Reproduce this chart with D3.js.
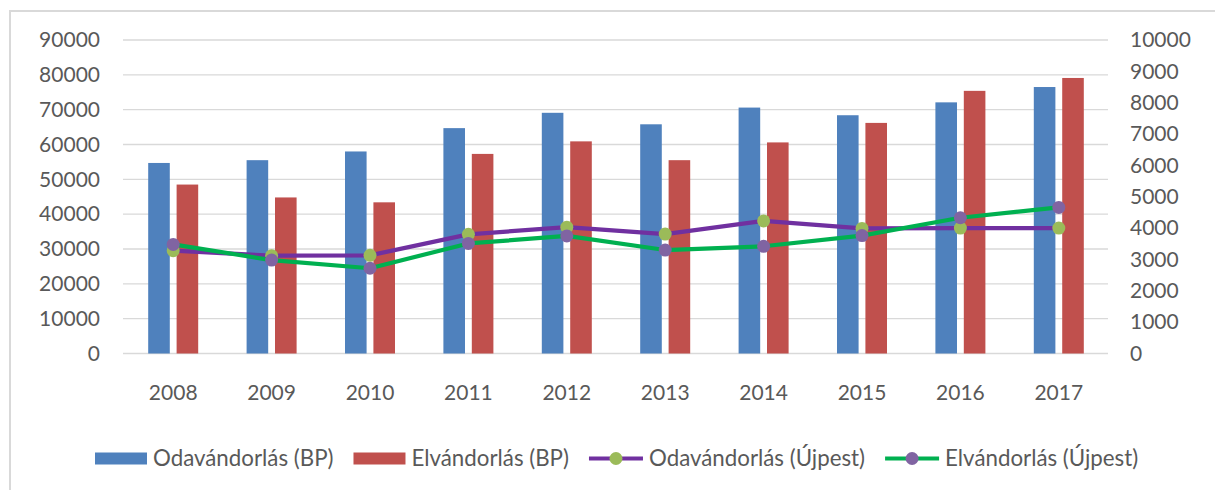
<!DOCTYPE html>
<html>
<head>
<meta charset="utf-8">
<script src="https://cdn.jsdelivr.net/npm/d3@7"></script>
<style>
  html, body { margin: 0; padding: 0; background: #fff; }
  svg { display: block; }
  text { font-family: Lato, "Open Sans", sans-serif; fill: #595959; }
</style>
</head>
<body>
<svg id="chart" width="1215" height="490"></svg>
<script>
// ---- data ----
const years = ["2008","2009","2010","2011","2012","2013","2014","2015","2016","2017"];
const odaBP = [54700, 55500, 58000, 64700, 69100, 65800, 70600, 68400, 72100, 76500];
const elBP  = [48500, 44800, 43400, 57300, 60900, 55500, 60600, 66200, 75400, 79100];
const odaUjpest = [3280, 3120, 3130, 3800, 4030, 3810, 4230, 3990, 4000, 4000];
const elUjpest  = [3480, 2980, 2720, 3510, 3750, 3300, 3420, 3760, 4330, 4660];
const leftTicks = [0,10000,20000,30000,40000,50000,60000,70000,80000,90000];
const rightTicks = [0,1000,2000,3000,4000,5000,6000,7000,8000,9000,10000];
const seriesNames = ["Odavándorlás (BP)", "Elvándorlás (BP)", "Odavándorlás (Újpest)", "Elvándorlás (Újpest)"];

// ---- styles ----
const C = {
  blue: "#4F81BD", red: "#C0504D",
  odaLine: "#7030A0", odaMarker: "#9BBB59",
  elLine: "#00B050", elMarker: "#8064A2",
  grid: "#D9D9D9", text: "#595959"
};

const svg = d3.select("#chart");

// outer border
svg.append("rect")
  .attr("x", 10).attr("y", 11).attr("width", 1230).attr("height", 500)
  .attr("fill", "none").attr("stroke", "#D9D9D9").attr("stroke-width", 2);

const plot = { left: 124, right: 1108, top: 40, bottom: 353.5 };

const x = d3.scaleBand().domain(years).range([plot.left, plot.right]).padding(0);
const xInner = d3.scaleBand().domain(["oda","el"]).range([-25, 25]).paddingInner(0.24).paddingOuter(0);
const yL = d3.scaleLinear().domain([0, 90000]).range([plot.bottom, plot.top]);
const yR = d3.scaleLinear().domain([0, 10000]).range([plot.bottom, plot.top]);

// gridlines
svg.append("g").attr("class","grid")
  .selectAll("line").data(leftTicks).join("line")
  .attr("x1", plot.left - 1).attr("x2", plot.right)
  .attr("y1", d => yL(d)).attr("y2", d => yL(d))
  .attr("stroke", C.grid).attr("stroke-width", 1.4);

// left axis
const axL = svg.append("g").attr("transform", `translate(100,0)`)
  .call(d3.axisLeft(yL).tickValues(leftTicks).tickSize(0).tickPadding(0).tickFormat(d3.format("d")));
axL.select(".domain").remove();
axL.selectAll("text").attr("font-size", 21).attr("fill", C.text).style("font-family", "Lato, sans-serif");

// right axis
const axR = svg.append("g").attr("transform", `translate(1130,0)`)
  .call(d3.axisRight(yR).tickValues(rightTicks).tickSize(0).tickPadding(0).tickFormat(d3.format("d")));
axR.select(".domain").remove();
axR.selectAll("text").attr("font-size", 21).attr("fill", C.text).style("font-family", "Lato, sans-serif");

// x axis labels
const axX = svg.append("g").attr("transform", `translate(0,${plot.bottom})`)
  .call(d3.axisBottom(x).tickSize(0).tickPadding(32));
axX.select(".domain").remove();
axX.selectAll("text").attr("font-size", 21).attr("fill", C.text).style("font-family", "Lato, sans-serif");

// bars
const barData = years.map((yr, i) => [
  { yr, key: "oda", v: odaBP[i], c: C.blue },
  { yr, key: "el",  v: elBP[i],  c: C.red }
]).flat();

svg.append("g").selectAll("rect").data(barData).join("rect")
  .attr("x", d => x(d.yr) + x.bandwidth()/2 + xInner(d.key))
  .attr("width", xInner.bandwidth())
  .attr("y", d => yL(d.v))
  .attr("height", d => yL(0) - yL(d.v))
  .attr("fill", d => d.c);

// lines
const cx = yr => x(yr) + x.bandwidth()/2;
const lineGen = d3.line().x(d => cx(d[0])).y(d => yR(d[1]));

function drawSeries(vals, lineColor, markerColor) {
  const pts = years.map((yr, i) => [yr, vals[i]]);
  const g = svg.append("g");
  g.append("path").datum(pts).attr("d", lineGen)
    .attr("fill", "none").attr("stroke", lineColor).attr("stroke-width", 4.2)
    .attr("stroke-linejoin", "round").attr("stroke-linecap", "round");
  g.selectAll("circle").data(pts).join("circle")
    .attr("cx", d => cx(d[0])).attr("cy", d => yR(d[1])).attr("r", 6.5)
    .attr("fill", markerColor);
}
drawSeries(odaUjpest, C.odaLine, C.odaMarker);
drawSeries(elUjpest, C.elLine, C.elMarker);

// legend
const legendItems = [
  { name: seriesNames[0], type: "bar", color: C.blue },
  { name: seriesNames[1], type: "bar", color: C.red },
  { name: seriesNames[2], type: "line", color: C.odaLine, marker: C.odaMarker },
  { name: seriesNames[3], type: "line", color: C.elLine, marker: C.elMarker }
];
const legY = 458.5;
let lx = 95;
const leg = svg.append("g");
legendItems.forEach(it => {
  if (it.type === "bar") {
    leg.append("rect").attr("x", lx).attr("y", legY - 6).attr("width", 52).attr("height", 12).attr("fill", it.color);
  } else {
    leg.append("line").attr("x1", lx).attr("x2", lx + 54).attr("y1", legY).attr("y2", legY)
      .attr("stroke", it.color).attr("stroke-width", 4.2);
    leg.append("circle").attr("cx", lx + 27).attr("cy", legY).attr("r", 6.5).attr("fill", it.marker);
  }
  const sw = it.type === "bar" ? 52 : 54;
  const t = leg.append("text").attr("x", lx + sw + 6).attr("y", legY).attr("dy", "0.35em")
    .attr("font-size", 22.3).attr("fill", C.text).text(it.name);
  const w = t.node().getComputedTextLength();
  lx = lx + sw + 6 + w + 20;
});
</script>
</body>
</html>
